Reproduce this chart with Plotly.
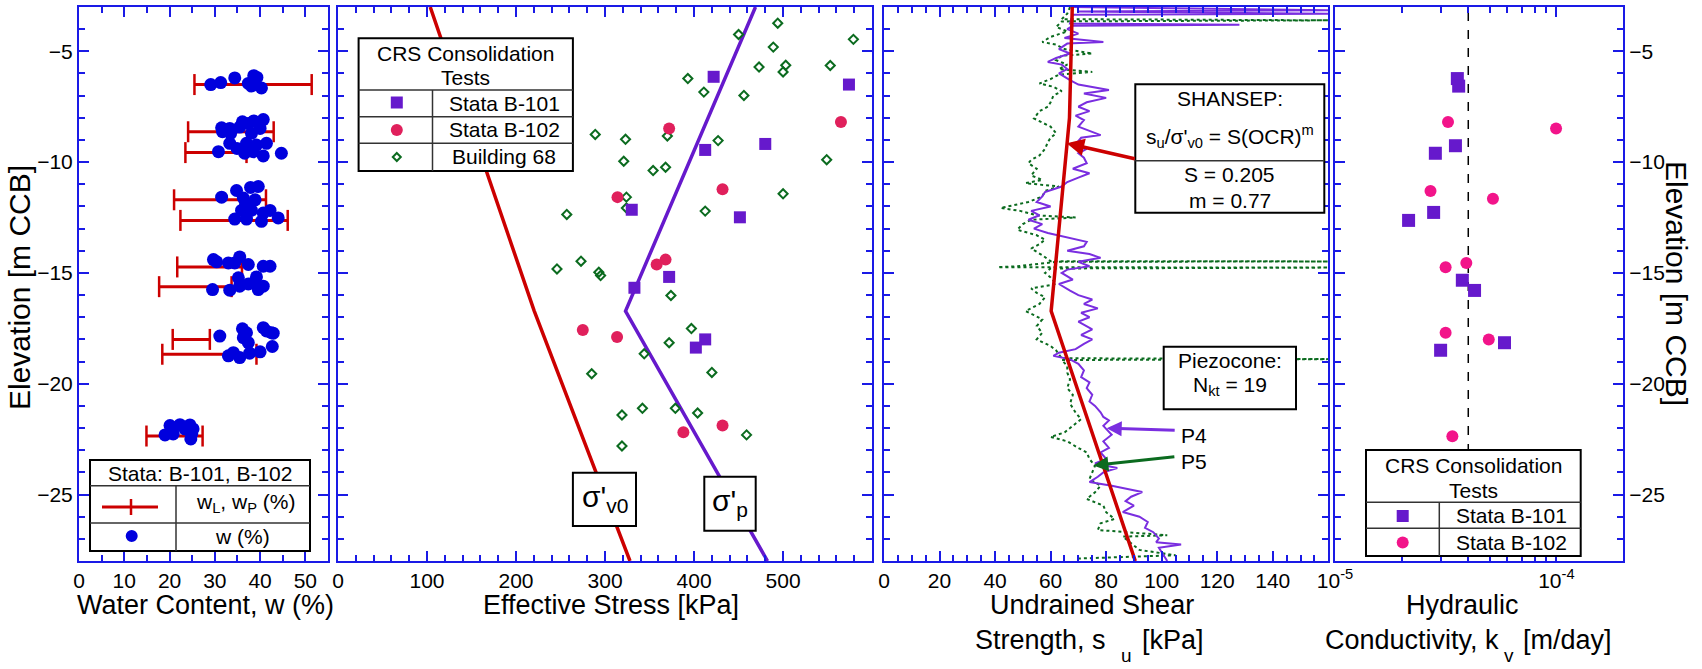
import plotly.graph_objects as go

W, H = 1702, 669
FONT = "Liberation Sans, Arial, Helvetica, sans-serif"
AXC = "#1a1ae6"
PURPLE = "#6619cc"
CRIMSON = "#e0205c"
PINK = "#f2148a"
DGREEN = "#0b6b1f"
RED = "#cc0000"
BLUE_DOT = "#0000dd"
P4C = "#7a2ee0"

# ---------------- data ----------------
# Panel 1: water content (Stata B-101, B-102)
wc_w = [29.1, 31.3, 34.4, 37.4, 38.6, 39.3, 38.1, 40.3,
        31.5, 31.7, 33.3, 33.5, 35.5, 36.1, 37.4, 38.6, 40.7, 38.1, 40.0,
        33.3, 37.0, 39.2, 41.4, 30.8, 34.9, 36.6, 38.5, 40.7, 44.7,
        34.8, 37.9, 39.6, 31.5, 36.3, 38.9, 35.9, 38.1, 42.2, 34.4, 37.0,
        40.3, 44.0, 40.7, 36.8,
        29.7, 30.4, 33.0, 35.5, 37.4, 40.7, 42.2, 34.4, 35.2, 39.2, 38.5,
        40.7, 39.6, 35.5, 29.5, 33.3, 37.4,
        36.1, 40.7, 42.5, 37.0, 31.1, 36.3, 37.4, 42.9, 42.7, 33.0, 35.5,
        37.7, 40.0, 34.1, 41.4,
        20.1, 22.3, 24.5, 19.0, 20.8, 24.9, 24.7, 23.4, 25.2]
wc_elev = [-6.50, -6.41, -6.20, -6.45, -6.10, -6.18, -6.57, -6.65,
           -8.45, -8.63, -8.48, -8.70, -8.42, -8.18, -8.26, -8.14, -8.08, -8.70, -8.48,
           -9.15, -9.15, -9.23, -9.15, -9.53, -9.38, -9.60, -9.53, -9.72, -9.60,
           -11.28, -11.14, -11.10, -11.58, -11.62, -11.70, -12.18, -12.18, -12.18, -12.57, -12.57,
           -12.67, -12.52, -12.30, -11.90,
           -14.40, -14.50, -14.55, -14.28, -14.62, -14.70, -14.70, -14.55, -15.22, -15.18, -15.45,
           -15.60, -15.75, -15.60, -15.75, -15.78, -15.50,
           -17.52, -17.47, -17.70, -17.70, -17.85, -17.92, -18.15, -17.72, -18.32, -18.74, -18.82,
           -18.62, -18.56, -18.60, -17.62,
           -21.89, -21.85, -21.86, -22.31, -22.27, -22.27, -22.49, -22.04, -22.04]
att_elev = [-6.50, -8.63, -9.57, -11.70, -12.63, -14.73, -15.62, -18.00, -18.67, -22.36]
att_wp = [25.5, 24.1, 23.5, 21.0, 22.4, 21.7, 17.7, 20.7, 18.4, 14.9]
att_wl = [51.4, 43.0, 37.0, 41.3, 46.1, 36.0, 33.7, 28.9, 39.2, 27.3]

# Panel 2: effective stress
sv0_elev = [-3.0, -16.7, -28.0]
sv0_kpa = [103.6, 220.3, 328.0]
sp_elev = [-3.0, -16.72, -28.0]
sp_kpa = [469.0, 323.0, 482.5]
crs101_kpa = [422, 574, 480, 412.5, 451.5, 330, 372, 333, 412.5, 402]
crs101_elev = [-6.15, -6.50, -9.18, -9.45, -12.49, -12.15, -15.18, -15.67, -18.00, -18.37]
crs102_kpa = [372, 565, 432, 314, 368, 358, 275, 313.5, 432, 388]
crs102_elev = [-8.48, -8.19, -11.22, -11.58, -14.40, -14.62, -17.58, -17.89, -21.89, -22.19]
b68_kpa = [494, 450, 579, 489, 473, 503, 500, 553, 393, 411, 456,
           289, 323, 370, 427, 321, 354, 368, 549, 324, 324, 257, 500, 412.5,
           273, 246, 293, 295, 374, 397, 372, 344, 285, 420, 319, 342, 379, 404, 459, 319]
b68_elev = [-3.73, -4.24, -4.46, -4.81, -5.71, -5.63, -5.93, -5.64, -6.23, -6.84, -6.99,
            -8.75, -8.97, -8.82, -9.03, -9.96, -10.38, -10.23, -9.89, -11.58, -12.07, -12.36, -11.43, -12.21,
            -14.47, -14.82, -14.97, -15.12, -16.02, -17.51, -18.15, -18.65, -19.55, -19.49, -21.41, -21.11,
            -21.11, -21.32, -22.31, -22.81]

# Panel 3: undrained shear strength
shansep_elev = [-3.0, -8.0, -16.72, -28.0]
shansep_su = [67.8, 66.8, 60.2, 90.5]
p4_elev = [-3.0, -3.15, -3.2, -3.3, -3.35, -3.75, -3.8, -3.85, -4.0, -4.2, -4.4, -4.58, -4.65,
           -4.9, -5.1, -5.3, -5.48, -5.6, -5.8, -6.0, -6.3, -6.5, -6.75, -6.9, -7.1, -7.3, -7.5,
           -7.7, -7.9, -8.1, -8.4, -8.6, -8.78, -8.9, -9.2, -9.4, -9.6, -9.8, -10.05, -10.3, -10.5,
           -10.7, -10.9, -11.1, -11.35, -11.55, -11.8, -12.0, -12.2, -12.4, -12.6, -12.8, -13.0,
           -13.2, -13.4, -13.6, -13.8, -14.0, -14.15, -14.32, -14.5, -14.7, -14.85, -15.0, -15.3,
           -15.5, -15.8, -16.0, -16.2, -16.4, -16.6, -16.8, -17.0, -17.2, -17.55, -17.8, -18.0,
           -18.2, -18.44, -18.6, -18.74, -18.9, -19.1, -19.4, -19.7, -19.94, -20.2, -20.5, -20.8,
           -21.0, -21.29, -21.5, -21.66, -21.9, -22.04, -22.3, -22.6, -22.9, -23.1, -23.39, -23.6,
           -23.8, -24.0, -24.2, -24.44, -24.6, -24.89, -25.1, -25.3, -25.5, -25.79, -26.0, -26.24,
           -26.5, -26.7, -26.99, -27.15, -27.26, -27.4, -27.6, -27.8, -28.0]
p4_su = [68, 160, 70, 160, 68, 67, 128, 68, 66, 70, 65, 79, 66,
         63, 67, 62, 59, 64, 66, 63, 67, 70, 81, 72, 80, 73, 70,
         74, 69, 72, 70, 74, 78, 71, 69, 73, 70, 72, 73, 68, 74,
         70, 66, 64, 58, 57, 55, 60, 53, 56, 52, 57, 54,
         59, 66, 73, 72, 66, 74, 78, 70, 74, 66, 64, 68,
         63, 67, 70, 75, 72, 77, 71, 74, 70, 75, 71, 75,
         72, 69, 63, 61, 67, 70, 72, 71, 74, 73, 75, 74,
         76, 78, 79, 81, 79, 80, 82, 79, 81, 78, 80, 76,
         84, 79, 77, 74, 82, 93, 89, 87, 90, 86, 92, 95,
         94, 97, 99, 98, 107, 99, 100, 101, 102]
p5_elev = [-3.0, -3.3, -3.55, -3.6, -3.65, -3.9, -4.1, -4.35, -4.58, -4.7, -4.9, -5.1, -5.2,
           -5.4, -5.6, -5.8, -5.93, -6.05, -6.25, -6.45, -6.6, -6.8, -7.0, -7.3, -7.5, -7.7,
           -8.03, -8.2, -8.4, -8.7, -8.9, -9.1, -9.4, -9.7, -9.9, -10.05, -10.3, -10.6, -10.8,
           -10.95, -11.1, -11.3, -11.55, -11.8, -12.07, -12.2, -12.4, -12.5, -12.6, -12.8, -13.05,
           -13.3, -13.5, -13.7, -13.9, -14.2, -14.47, -14.48, -14.5, -14.7, -14.74, -14.76, -14.8,
           -15.0, -15.2, -15.5, -15.7, -15.9, -16.1, -16.4, -16.72, -16.9, -17.1, -17.4, -17.7,
           -18.0, -18.3, -18.5, -18.85, -18.89, -18.93, -19.2, -19.5, -19.8, -20.2, -20.5, -20.9,
           -21.3, -21.6, -21.9, -22.2, -22.4, -22.6, -22.9, -23.1, -23.4, -23.7, -24.0, -24.3,
           -24.6, -24.9, -25.2, -25.5, -25.8, -26.1, -26.3, -26.6, -26.84, -26.9, -27.1, -27.3,
           -27.5, -27.74, -27.8, -27.89]
p5_su = [67, 66, 64, 160, 64, 62, 66, 60, 57, 62, 65, 75, 64,
         62, 66, 63, 75, 63, 60, 56, 61, 64, 61, 60, 59, 56,
         54, 57, 60, 62, 60, 59, 58, 56, 53, 52, 55, 53, 57,
         51, 63, 58, 57, 52, 42, 49, 55, 69, 53, 50, 48,
         55, 58, 56, 53, 57, 60, 160, 62, 48, 41, 160, 60,
         58, 60, 62, 53, 55, 58, 56, 51, 54, 57, 55, 57,
         55, 60, 62, 64, 160, 64, 66, 66, 67, 66, 68, 67,
         69, 71, 68, 65, 60, 66, 70, 73, 74, 76, 75, 74,
         78, 76, 73, 79, 80, 83, 78, 77, 102, 86, 88, 90,
         92, 105, 90, 70]

# Panel 4: hydraulic conductivity
k101_kv = [3.57e-5, 3.62e-5, 3.50e-5, 2.84e-5, 2.79e-5, 2.15e-5, 3.76e-5, 4.27e-5, 5.83e-5, 3.00e-5]
k101_elev = [-6.23, -6.57, -9.26, -9.60, -12.27, -12.63, -15.33, -15.79, -18.15, -18.49]
k102_kv = [3.24e-5, 9.97e-5, 2.70e-5, 5.17e-5, 3.16e-5, 3.92e-5, 3.16e-5, 4.95e-5, 3.39e-5]
k102_elev = [-8.19, -8.48, -11.30, -11.65, -14.74, -14.55, -17.70, -18.00, -22.37]
kv_ref = 4e-5
elev_range = [-28, -3]

# ---------------- helpers ----------------
def px(x):
    return x / W


def py(y):
    return 1 - y / H


fig = go.Figure()

# Panel 1
bx, by = [], []
for e, a, b in zip(att_elev, att_wp, att_wl):
    bx += [a, b, None]
    by += [e, e, None]
fig.add_trace(go.Scatter(x=bx, y=by, mode="lines+markers", xaxis="x", yaxis="y",
                         line=dict(color=RED, width=3),
                         marker=dict(symbol="line-ns-open", size=15, color=RED,
                                     line=dict(color=RED, width=2.5))))
fig.add_trace(go.Scatter(x=wc_w, y=wc_elev, mode="markers", xaxis="x", yaxis="y",
                         marker=dict(symbol="circle", size=13, color=BLUE_DOT)))

# Panel 2
fig.add_trace(go.Scatter(x=sv0_kpa, y=sv0_elev, mode="lines", xaxis="x2", yaxis="y2",
                         line=dict(color=RED, width=3.5)))
fig.add_trace(go.Scatter(x=sp_kpa, y=sp_elev, mode="lines", xaxis="x2", yaxis="y2",
                         line=dict(color=PURPLE, width=3.5)))
fig.add_trace(go.Scatter(x=b68_kpa, y=b68_elev, mode="markers", xaxis="x2", yaxis="y2",
                         marker=dict(symbol="diamond-open", size=7, color=DGREEN,
                                     line=dict(color=DGREEN, width=2))))
fig.add_trace(go.Scatter(x=crs101_kpa, y=crs101_elev, mode="markers", xaxis="x2", yaxis="y2",
                         marker=dict(symbol="square", size=12, color=PURPLE)))
fig.add_trace(go.Scatter(x=crs102_kpa, y=crs102_elev, mode="markers", xaxis="x2", yaxis="y2",
                         marker=dict(symbol="circle", size=12, color=CRIMSON)))

# Panel 3
fig.add_trace(go.Scatter(x=p5_su, y=p5_elev, mode="lines", xaxis="x3", yaxis="y3",
                         line=dict(color=DGREEN, width=2, dash="dot")))
fig.add_trace(go.Scatter(x=p4_su, y=p4_elev, mode="lines", xaxis="x3", yaxis="y3",
                         line=dict(color=P4C, width=2)))
fig.add_trace(go.Scatter(x=shansep_su, y=shansep_elev, mode="lines", xaxis="x3", yaxis="y3",
                         line=dict(color=RED, width=3.5)))

# Panel 4
fig.add_trace(go.Scatter(x=[kv_ref, kv_ref], y=elev_range, mode="lines", xaxis="x4", yaxis="y4",
                         line=dict(color="black", width=1.5, dash="dash")))
fig.add_trace(go.Scatter(x=k101_kv, y=k101_elev, mode="markers", xaxis="x4", yaxis="y4",
                         marker=dict(symbol="square", size=13, color=PURPLE)))
fig.add_trace(go.Scatter(x=k102_kv, y=k102_elev, mode="markers", xaxis="x4", yaxis="y4",
                         marker=dict(symbol="circle", size=12, color=PINK)))

# ---------------- axes ----------------
ydom = [py(561), py(7)]
tickfont = dict(family=FONT, size=21, color="black")
base = dict(showline=True, linecolor=AXC, linewidth=2, mirror="ticks", ticks="inside",
            tickcolor=AXC, tickwidth=2, ticklen=10, showgrid=False, zeroline=False,
            tickfont=tickfont, automargin=False)


def minor(d):
    return dict(ticks="inside", ticklen=6, tickcolor=AXC, tickwidth=2, dtick=d, tick0=0,
                showgrid=False)


yax = dict(base, range=elev_range, tickmode="linear", tick0=0, dtick=5, minor=minor(1),
           domain=ydom)

layout = dict(
    width=W, height=H, margin=dict(l=0, r=0, t=0, b=0, autoexpand=False),
    paper_bgcolor="white", plot_bgcolor="white", showlegend=False,
    font=dict(family=FONT, color="black"),
    xaxis=dict(base, domain=[px(79), px(328)], anchor="y", range=[0, 55], tickmode="linear",
               tick0=0, dtick=10, minor=minor(5)),
    xaxis2=dict(base, domain=[px(338), px(872)], anchor="y2", range=[0, 599.9], tickmode="linear",
                tick0=0, dtick=100, minor=minor(20)),
    xaxis3=dict(base, domain=[px(884), px(1328)], anchor="y3", range=[0, 159.9], tickmode="linear",
                tick0=0, dtick=20, minor=minor(5)),
    xaxis4=dict(base, domain=[px(1335), px(1623)], anchor="y4", type="log",
                range=[-5, -3.69897], tickmode="array", tickvals=[1e-5, 1e-4],
                ticktext=["10<sup>-5</sup>", "10<sup>-4</sup>"],
                minor=dict(ticks="inside", ticklen=6, tickcolor=AXC, tickwidth=2,
                           tickmode="array",
                           tickvals=[2e-5, 3e-5, 4e-5, 5e-5, 6e-5, 7e-5, 8e-5, 9e-5, 2e-4],
                           showgrid=False)),
    yaxis=dict(yax, anchor="x"),
    yaxis2=dict(yax, anchor="x2", showticklabels=False),
    yaxis3=dict(yax, anchor="x3", showticklabels=False),
    yaxis4=dict(yax, anchor="x4", side="right"),
)
fig.update_layout(**layout)

# ---------------- shapes & annotations ----------------
shapes = []
annos = []


def box(x0, y0, x1, y1, w=2):
    shapes.append(dict(type="rect", xref="paper", yref="paper", x0=px(x0), x1=px(x1),
                       y0=py(y1), y1=py(y0), fillcolor="white",
                       line=dict(color="black", width=w), layer="above"))


def hline(x0, x1, y, w=1.5, color="#333333"):
    shapes.append(dict(type="line", xref="paper", yref="paper", x0=px(x0), x1=px(x1),
                       y0=py(y), y1=py(y), line=dict(color=color, width=w), layer="above"))


def vline(x, y0, y1, w=1.5, color="#333333"):
    shapes.append(dict(type="line", xref="paper", yref="paper", x0=px(x), x1=px(x),
                       y0=py(y0), y1=py(y1), line=dict(color=color, width=w), layer="above"))


def text(x, y, s, size=21, xanchor="center", angle=0):
    annos.append(dict(x=px(x), y=py(y), xref="paper", yref="paper", text=s, showarrow=False,
                      xanchor=xanchor, yanchor="middle", textangle=angle,
                      font=dict(family=FONT, size=size, color="black")))


def sq(x, y, s, color):
    shapes.append(dict(type="rect", xref="paper", yref="paper", x0=px(x - s / 2), x1=px(x + s / 2),
                       y0=py(y + s / 2), y1=py(y - s / 2), fillcolor=color,
                       line=dict(width=0), layer="above"))


def circ(x, y, d, color):
    shapes.append(dict(type="circle", xref="paper", yref="paper", x0=px(x - d / 2), x1=px(x + d / 2),
                       y0=py(y + d / 2), y1=py(y - d / 2), fillcolor=color,
                       line=dict(width=0), layer="above"))


def diamond(x, y, r, color):
    p = "M {} {} L {} {} L {} {} L {} {} Z".format(px(x), py(y - r), px(x + r), py(y),
                                                 px(x), py(y + r), px(x - r), py(y))
    shapes.append(dict(type="path", xref="paper", yref="paper", path=p,
                       line=dict(color=color, width=2), layer="above"))


def arrow(x, y, ax, ay, color, width):
    annos.append(dict(x=x, y=y, xref="x3", yref="y3", ax=ax, ay=ay, text=" ",
                      showarrow=True, arrowhead=2, arrowsize=1, arrowwidth=width,
                      arrowcolor=color, font=dict(size=2)))


# Panel 1 legend
box(90, 460, 310, 551)
hline(90, 310, 485.7)
hline(90, 310, 523)
vline(176, 485.7, 551)
text(200, 473, "Stata: B-101, B-102")
hline(102, 158, 507, w=3, color=RED)
vline(131, 499, 515, w=2.5, color=RED)
text(245, 503, "w<sub>L</sub>, w<sub>P</sub> (%)")
circ(131.7, 536, 12, BLUE_DOT)
text(242, 536, "w (%)")

# Panel 2 legend
box(358.6, 38.3, 572.9, 171)
text(465.7, 53, "CRS Consolidation")
text(465.7, 77.5, "Tests")
hline(358.6, 572.9, 90)
hline(358.6, 572.9, 116.7)
hline(358.6, 572.9, 143.3)
vline(432.5, 90, 171)
sq(396.8, 102.5, 12, PURPLE)
circ(396.8, 130, 12, CRIMSON)
diamond(396.8, 157, 4, DGREEN)
text(504, 103.3, "Stata B-101")
text(504, 130, "Stata B-102")
text(504, 157, "Building 68")

# sigma boxes
box(572.9, 472.7, 636, 526)
text(604.5, 498, "σ'<sub>v0</sub>", size=30)
box(704.3, 476.7, 755.7, 530.7)
text(730, 502, "σ'<sub>p</sub>", size=30)

# Panel 3 boxes
box(1135.3, 84.3, 1324.3, 212.7)
hline(1135.3, 1324.3, 160.7)
text(1229.8, 99, "SHANSEP:")
text(1229.8, 137, "s<sub>u</sub>/σ'<sub>v0</sub> = S(OCR)<sup>m</sup>")
text(1229.8, 175, "S = 0.205")
text(1229.8, 200, "m = 0.77")
box(1163.7, 346.7, 1296, 409.3)
text(1229.8, 360.7, "Piezocone:")
text(1229.8, 386, "N<sub>kt</sub> = 19")
text(1179, 436, "P4", xanchor="left")
text(1179, 461.5, "P5", xanchor="left")

arrow(65.8, -9.15, 70, 16, RED, 3.5)
arrow(80.2, -22.01, 70, 2, P4C, 3)
arrow(75.4, -23.69, 83, -9, DGREEN, 3)

# Panel 4 legend
box(1366, 450, 1580.7, 556)
text(1473.3, 465, "CRS Consolidation")
text(1473.3, 490, "Tests")
hline(1366, 1580.7, 502.3)
hline(1366, 1580.7, 528.3)
vline(1439.3, 502.3, 556)
sq(1402.7, 516, 12, PURPLE)
circ(1402.7, 542.5, 12, PINK)
text(1511.7, 515.5, "Stata B-101")
text(1511.7, 542, "Stata B-102")

# Axis titles
text(19, 288, "Elevation [m CCB]", size=30, angle=-90)
text(1677, 283, "Elevation [m CCB]", size=30, angle=90)
text(205, 605, "Water Content, w (%)", size=27)
text(611, 605, "Effective Stress [kPa]", size=27)
text(1092, 605, "Undrained Shear", size=27)
text(1108, 640, "Strength, s", size=27, xanchor="right")
text(1126, 655, "u", size=19)
text(1140, 640, "[kPa]", size=27, xanchor="left")
text(1462, 605, "Hydraulic", size=27)
text(1501, 640, "Conductivity, k", size=27, xanchor="right")
text(1509, 655, "v", size=19)
text(1521, 640, "[m/day]", size=27, xanchor="left")

fig.update_layout(shapes=shapes, annotations=annos)
fig.write_html("out.html")
